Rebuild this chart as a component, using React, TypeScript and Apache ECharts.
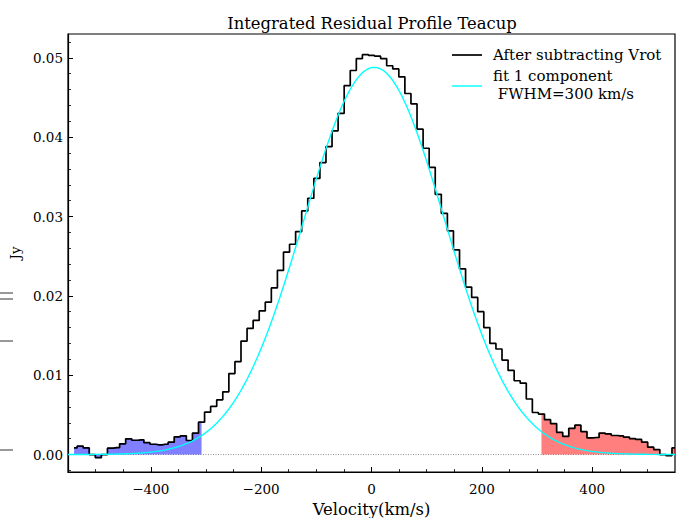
import React, { useEffect, useRef } from "react";
import * as echarts from "echarts";

const velocity = [
  -539, -528, -517, -506, -495, -484, -473, -462, -451, -440,
  -429, -418, -407, -396, -385, -374, -363, -352, -341, -330,
  -319, -308, -297, -286, -275, -264, -253, -242, -231, -220,
  -209, -198, -187, -176, -165, -154, -143, -132, -121, -110,
  -99, -88, -77, -66, -55, -44, -33, -22, -11, 0,
  11, 22, 33, 44, 55, 66, 77, 88, 99, 110,
  121, 132, 143, 154, 165, 176, 187, 198, 209, 220,
  231, 242, 253, 264, 275, 286, 297, 308, 319, 330,
  341, 352, 363, 374, 385, 396, 407, 418, 429, 440,
  451, 462, 473, 484, 495, 506, 517, 528, 539, 550,
];

const flux = [
  0.00084, 0.00105, 0.00084, 0.0, -0.0004, 0.0, 0.0008, 0.00088, 0.00135, 0.00198,
  0.0018, 0.00185, 0.0015, 0.0013, 0.00122, 0.0013, 0.00156, 0.00223, 0.00236, 0.00177,
  0.00269, 0.00408, 0.00534, 0.00606, 0.0069, 0.0079, 0.0102, 0.0117, 0.0143, 0.0159,
  0.0169, 0.0181, 0.0192, 0.021, 0.0232, 0.0255, 0.0265, 0.0281, 0.0307, 0.0323,
  0.0348, 0.0368, 0.0388, 0.0408, 0.043, 0.0465, 0.0484, 0.0499, 0.0504, 0.0503,
  0.0502, 0.0499, 0.049, 0.0486, 0.0476, 0.0455, 0.0442, 0.041, 0.0386, 0.0362,
  0.0328, 0.0304, 0.0282, 0.0258, 0.0234, 0.0211, 0.0198, 0.018, 0.016, 0.014,
  0.0133, 0.0119, 0.0106, 0.0093, 0.009, 0.007, 0.0053, 0.0051, 0.0044, 0.0039,
  0.0028, 0.0023, 0.0033, 0.0037, 0.0029, 0.0021, 0.00215, 0.0027, 0.0026, 0.0024,
  0.00236, 0.0022, 0.002, 0.0019, 0.00156, 0.00093, 0.00063, 0.0, -0.00013, 0.00084,
];

// wing limits (bin centres) for shaded regions
const blueLimit = -308;
const redLimit = 308;

// single-gaussian fit parameters
const fitAmplitude = 0.0488;
const fitCenter = 5;
const fitFWHM = 300;

const xRange = [-550, 550];
const yRange = [-0.0022, 0.053];
const xMajorTicks = [-400, -200, 0, 200, 400];
const xMinorTicks = [-500, -450, -350, -300, -250, -150, -100, -50, 50, 100, 150, 250, 300, 350, 450, 500];
const yMajorTicks = [0, 0.01, 0.02, 0.03, 0.04, 0.05];
const yMinorTicks = [-0.002, 0.002, 0.004, 0.006, 0.008, 0.012, 0.014, 0.016, 0.018, 0.022, 0.024, 0.026, 0.028, 0.032, 0.034, 0.036, 0.038, 0.042, 0.044, 0.046, 0.048, 0.052];

const FONT = "DejaVu Serif";

export default function App() {
  const ref = useRef<HTMLDivElement>(null);

  useEffect(() => {
    if (!ref.current) return;
    const chart = echarts.init(ref.current, undefined, { renderer: "svg" });

    const hist = velocity.map((v, i) => [v, flux[i]]);
    const blue = hist.filter((p) => p[0] <= blueLimit);
    const red = hist.filter((p) => p[0] >= redLimit);
    const sigma = fitFWHM / (2 * Math.sqrt(2 * Math.log(2)));
    const fit: number[][] = [];
    for (let x = xRange[0]; x <= xRange[1]; x += 4) {
      fit.push([x, fitAmplitude * Math.exp(-((x - fitCenter) ** 2) / (2 * sigma * sigma))]);
    }

    const baseX = {
      type: "value",
      min: xRange[0],
      max: xRange[1],
      position: "bottom",
      splitLine: { show: false },
    };
    const baseY = {
      type: "value",
      min: yRange[0],
      max: yRange[1],
      position: "left",
      splitLine: { show: false },
    };

    chart.setOption({
      animation: false,
      title: {
        text: "Integrated Residual Profile Teacup",
        left: 367,
        top: 10,
        textAlign: "center",
        textStyle: { fontFamily: FONT, fontSize: 16.4, fontWeight: "normal", color: "#000" },
      },
      grid: {
        left: 68,
        right: 6,
        top: 34,
        bottom: 46,
        show: true,
        containLabel: false,
        outerBoundsMode: "none",
        borderColor: "#000",
        borderWidth: 1.2,
        backgroundColor: "transparent",
      },
      xAxis: [
        {
          ...baseX,
          name: "Velocity(km/s)",
          nameLocation: "middle",
          nameGap: 29,
          nameTextStyle: { fontFamily: FONT, fontSize: 16.4, color: "#000" },
          axisLine: { show: true, onZero: false, lineStyle: { color: "#000", width: 1.2 } },
          axisTick: { show: true, inside: true, length: 5, customValues: xMajorTicks, lineStyle: { color: "#000", width: 1 } },
          axisLabel: {
            show: true,
            customValues: xMajorTicks,
            margin: 10,
            fontFamily: FONT,
            fontSize: 13.5,
            color: "#000",
            formatter: (v: number) => (v < 0 ? "\u2212" + Math.abs(v) : String(v)),
          },
        },
        {
          ...baseX,
          axisLine: { show: false, onZero: false },
          axisTick: { show: true, inside: true, length: 3, customValues: xMinorTicks, lineStyle: { color: "#000", width: 0.8 } },
          axisLabel: { show: false },
        },
      ],
      yAxis: [
        {
          ...baseY,
          name: "Jy",
          nameLocation: "middle",
          nameGap: 42,
          nameRotate: 90,
          nameTextStyle: { fontFamily: FONT, fontSize: 13.5, color: "#000" },
          axisLine: { show: true, onZero: false, lineStyle: { color: "#000", width: 1.2 } },
          axisTick: { show: true, inside: true, length: 5, customValues: yMajorTicks, lineStyle: { color: "#000", width: 1 } },
          axisLabel: {
            show: true,
            customValues: yMajorTicks,
            margin: 5,
            fontFamily: FONT,
            fontSize: 13.5,
            color: "#000",
            formatter: (v: number) => v.toFixed(2),
          },
        },
        {
          ...baseY,
          axisLine: { show: false, onZero: false },
          axisTick: { show: true, inside: true, length: 3, customValues: yMinorTicks, lineStyle: { color: "#000", width: 0.8 } },
          axisLabel: { show: false },
        },
      ],
      series: [
        {
          type: "line",
          data: [[xRange[0], 0], [xRange[1], 0]],
          symbol: "none",
          silent: true,
          lineStyle: { color: "#777", width: 0.8, type: [1, 1.5] },
          z: 1,
        },
        {
          type: "line",
          data: blue,
          step: "middle",
          symbol: "none",
          silent: true,
          lineStyle: { width: 1, color: "rgba(0,0,255,0.5)" },
          areaStyle: { color: "rgba(0,0,255,0.5)", opacity: 1 },
          z: 2,
        },
        {
          type: "line",
          data: red,
          step: "middle",
          symbol: "none",
          silent: true,
          lineStyle: { width: 1, color: "rgba(255,0,0,0.5)" },
          areaStyle: { color: "rgba(255,0,0,0.5)", opacity: 1 },
          z: 2,
        },
        {
          name: "After subtracting Vrot",
          type: "line",
          data: hist,
          step: "middle",
          symbol: "none",
          silent: true,
          lineStyle: { color: "#000", width: 1.7 },
          z: 3,
        },
        {
          name: "fit 1 component\n FWHM=300 km/s",
          type: "line",
          data: fit,
          symbol: "none",
          silent: true,
          lineStyle: { color: "#00ffff", width: 1.4 },
          z: 4,
        },
      ],
      graphic: [
        { type: "line", shape: { x1: 452, y1: 55, x2: 482, y2: 55 }, style: { stroke: "#000", lineWidth: 1.7 } },
        { type: "text", x: 493, y: 55, style: { text: "After subtracting Vrot", font: `15px "${FONT}"`, fill: "#000", textVerticalAlign: "middle" } },
        { type: "line", shape: { x1: 452, y1: 86, x2: 482, y2: 86 }, style: { stroke: "#00ffff", lineWidth: 1.4 } },
        { type: "text", x: 493, y: 76, style: { text: "fit 1 component", font: `15px "${FONT}"`, fill: "#000", textVerticalAlign: "middle" } },
        { type: "text", x: 493, y: 94, style: { text: " FWHM=300 km/s", font: `15px "${FONT}"`, fill: "#000", textVerticalAlign: "middle" } },
        { type: "line", shape: { x1: 0, y1: 293, x2: 13, y2: 293 }, style: { stroke: "#333", lineWidth: 1 } },
        { type: "line", shape: { x1: 0, y1: 299, x2: 13, y2: 299 }, style: { stroke: "#333", lineWidth: 1 } },
        { type: "line", shape: { x1: 0, y1: 341, x2: 13, y2: 341 }, style: { stroke: "#333", lineWidth: 1 } },
        { type: "line", shape: { x1: 0, y1: 450, x2: 13, y2: 450 }, style: { stroke: "#333", lineWidth: 1 } },
      ],
    });

    return () => chart.dispose();
  }, []);

  return (
    <div
      ref={ref}
      style={{ position: "fixed", left: 0, top: 0, width: 681, height: 518, background: "#fff" }}
    />
  );
}
